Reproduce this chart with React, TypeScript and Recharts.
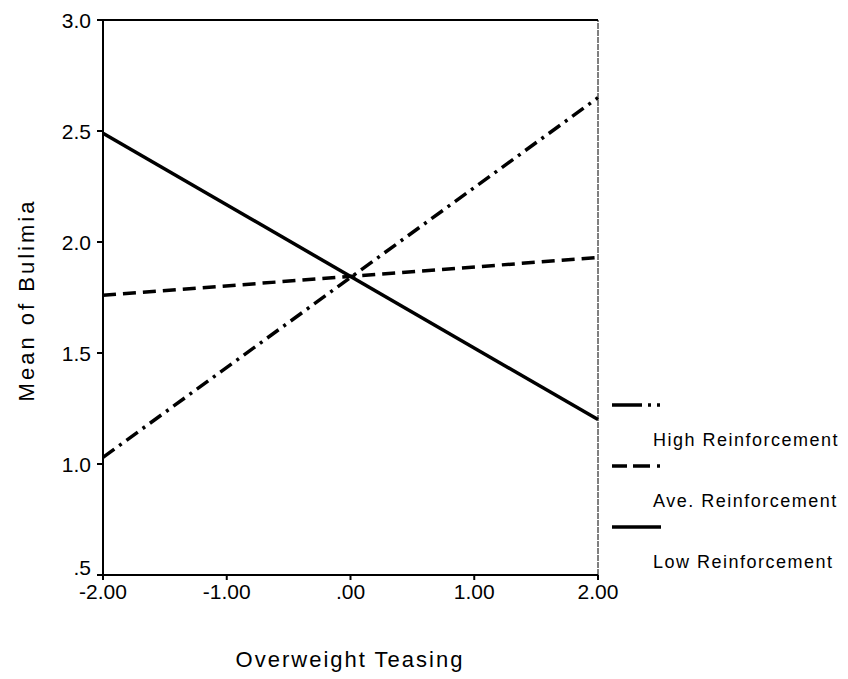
import {
	LineChart,
	Line,
	XAxis,
	YAxis,
	Legend,
	ReferenceLine,
} from "recharts";

const FONT = '"Liberation Sans", Arial, Helvetica, sans-serif';

// overweight teasing (x) values at the ends of each line
const teasing = [-2, 2];
const highReinforcement = [1.03, 2.65];
const aveReinforcement = [1.76, 1.93];
const lowReinforcement = [2.49, 1.2];

const xTicks = [-2, -1, 0, 1, 2];
const xTickLabels = ["-2.00", "-1.00", ".00", "1.00", "2.00"];
const yTicks = [0.5, 1, 1.5, 2, 2.5, 3];
const yTickLabels = [".5", "1.0", "1.5", "2.0", "2.5", "3.0"];

const series = [
	{ key: "high", name: "High Reinforcement", dash: "14 6 3 6" },
	{ key: "ave", name: "Ave. Reinforcement", dash: "13 7" },
	{ key: "low", name: "Low Reinforcement", dash: undefined },
];

const data = teasing.map((x, i) => ({
	x,
	high: highReinforcement[i],
	ave: aveReinforcement[i],
	low: lowReinforcement[i],
}));

const legendSamples: Record<string, string | undefined> = {
	"High Reinforcement": "30 6 3 6 3 20",
	"Ave. Reinforcement": "15 6 17 7 3 20",
	"Low Reinforcement": undefined,
};

const renderLegend = () => (
	<div style={{ fontFamily: FONT }}>
		{series.map((s) => (
			<div key={s.key} style={{ height: 61 }}>
				<svg width={60} height={24} style={{ display: "block" }}>
					<line
						x1={4}
						y1={12}
						x2={53}
						y2={12}
						stroke="#000"
						strokeWidth={3.5}
						strokeDasharray={legendSamples[s.name]}
					/>
				</svg>
				<div
					style={{
						paddingLeft: 45,
						paddingTop: 10,
						height: 27,
						lineHeight: "27px",
						fontSize: 18,
						letterSpacing: "1.5px",
						color: "#000",
						whiteSpace: "nowrap",
					}}
				>
					{s.name}
				</div>
			</div>
		))}
	</div>
);

const XTick = (props: any) => {
	const { x, y, payload } = props;
	const i = xTicks.indexOf(payload.value);
	return (
		<text
			x={x}
			y={y}
			dy={15}
			textAnchor="middle"
			fontSize={21}
			fontFamily={FONT}
			fill="#000"
		>
			{xTickLabels[i]}
		</text>
	);
};

const YTick = (props: any) => {
	const { x, y, payload } = props;
	const i = yTicks.indexOf(payload.value);
	// the lowest label sits a little above its tick, clear of the x labels
	const lift = payload.value === 0.5 ? -8 : 0;
	return (
		<text
			x={x}
			y={y + lift}
			dy={7.5}
			textAnchor="end"
			fontSize={21}
			fontFamily={FONT}
			fill="#000"
		>
			{yTickLabels[i]}
		</text>
	);
};

export default function App() {
	return (
		<div
			style={{
				position: "absolute",
				left: 0,
				top: 0,
				width: 848,
				height: 679,
				background: "#fff",
			}}
		>
			<LineChart
				width={848}
				height={679}
				data={data}
				margin={{ top: 20, right: 250, bottom: 0, left: 0 }}
			>
				<XAxis
					dataKey="x"
					type="number"
					domain={[-2, 2]}
					ticks={xTicks}
					height={104}
					tickSize={5}
					tickMargin={4}
					stroke="#000"
					strokeWidth={2}
					tick={<XTick />}
					label={{
						content: () => (
							<text
								x={350}
								y={667}
								textAnchor="middle"
								fontSize={22}
								letterSpacing="2px"
								fontFamily={FONT}
								fill="#000"
							>
								Overweight Teasing
							</text>
						),
					}}
				/>
				<YAxis
					type="number"
					domain={[0.5, 3]}
					ticks={yTicks}
					width={103}
					tickSize={6}
					tickMargin={6}
					stroke="#000"
					strokeWidth={2}
					tick={<YTick />}
					label={{
						content: () => (
							<text
								x={34}
								y={300}
								transform="rotate(-90 34 300)"
								textAnchor="middle"
								fontSize={22}
								letterSpacing="3px"
								fontFamily={FONT}
								fill="#000"
							>
								Mean of Bulimia
							</text>
						),
					}}
				/>
				<ReferenceLine y={3} stroke="#000" strokeWidth={2} />
				<ReferenceLine x={2} stroke="#000" strokeWidth={1} strokeDasharray="6 1" />
				<Legend
					content={renderLegend}
					layout="vertical"
					align="center"
					verticalAlign="middle"
					wrapperStyle={{ left: 608, top: 393, width: 240 }}
				/>
				{series.map((s) => (
					<Line
						key={s.key}
						type="linear"
						dataKey={s.key}
						name={s.name}
						stroke="#000"
						strokeWidth={3.5}
						strokeDasharray={s.dash}
						dot={false}
						isAnimationActive={false}
					/>
				))}
			</LineChart>
		</div>
	);
}
